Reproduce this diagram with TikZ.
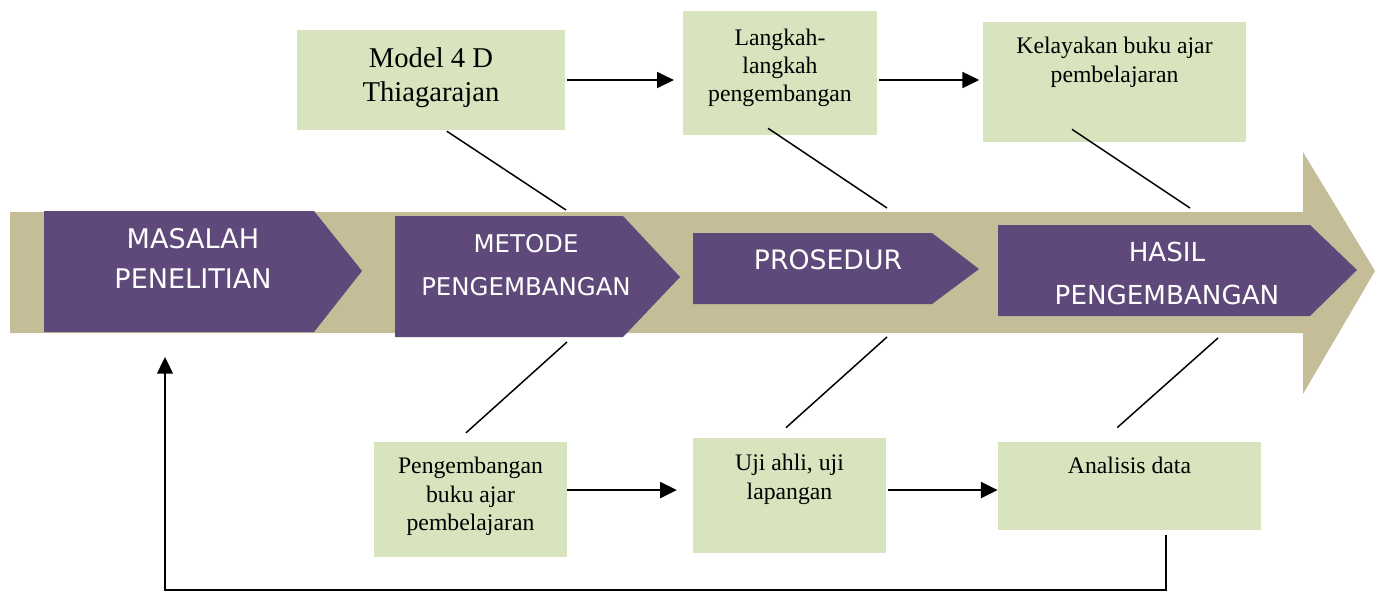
\documentclass[tikz,border=0pt]{standalone}
\usepackage{fontspec}
\setmainfont{Liberation Serif}
\newfontfamily\stagefont{DejaVu Sans}
\usetikzlibrary{arrows.meta,positioning}

\definecolor{arrowtan}{HTML}{C4BD97}
\definecolor{stagepurple}{HTML}{5F497A}
\definecolor{boxgreen}{HTML}{D7E4BD}

\tikzset{
  greenbox/.style={fill=boxgreen, inner sep=0pt},
  boxtext/.style={align=center, inner sep=0pt, font=\fontsize{13.5pt}{16pt}\selectfont},
  stagetext/.style={align=center, inner sep=0pt, text=white},
  flow/.style={line width=1.4pt, -{Triangle[length=9.5pt,width=9pt]}},
  spoke/.style={line width=0.85pt},
}

\begin{document}
\begin{tikzpicture}[x=0.02cm,y=-0.02cm]
    % Page size
    \useasboundingbox (0,0) rectangle (1375,592);

    % Shaft and head of the big arrow
    \pgfmathsetmacro{\Stop}{212}
    \pgfmathsetmacro{\Sbot}{333}
    \fill[arrowtan] (10,\Stop) -- (1303,\Stop) -- (1303,152) -- (1375,271)
        -- (1303,394) -- (1303,\Sbot) -- (10,\Sbot) -- cycle;

    % The four stages on the arrow
    \fill[stagepurple] (44,211) -- (314,211) -- (362,271) -- (314,332) -- (44,332) -- cycle;
    \fill[stagepurple] (395,216) -- (623,216) -- (680,277) -- (623,337) -- (395,337) -- cycle;
    \fill[stagepurple] (693,233) -- (932,233) -- (979,269) -- (932,304) -- (693,304) -- cycle;
    \fill[stagepurple] (998,225) -- (1310,225) -- (1357,270) -- (1310,316) -- (998,316) -- cycle;

    \node[stagetext, font=\stagefont\fontsize{15.4pt}{22.8pt}\selectfont] (masalah) at (193,258.5) {MASALAH\\PENELITIAN};
    \node[stagetext, font=\stagefont\fontsize{13.9pt}{24.5pt}\selectfont] (metode) at (526,265.5) {METODE\\PENGEMBANGAN};
    \node[stagetext, font=\stagefont\fontsize{15.2pt}{22pt}\selectfont] (prosedur) at (828,260) {PROSEDUR};
    \node[stagetext, font=\stagefont\fontsize{14.9pt}{24.5pt}\selectfont] (hasil) at (1167,273) {HASIL\\PENGEMBANGAN};

    % Boxes above the arrow
    \node[greenbox, minimum width=5.36cm, minimum height=2.0cm] (model) at (431,80) {};
    \node[greenbox, minimum width=3.88cm, minimum height=2.48cm] (langkah) at (780,73) {};
    \node[greenbox, minimum width=5.26cm, minimum height=2.4cm] (kelayakan) at (1114.5,82) {};

    % Boxes below the arrow
    \node[greenbox, minimum width=3.86cm, minimum height=2.3cm] (bukuajar) at (470.5,499.5) {};
    \node[greenbox, minimum width=3.86cm, minimum height=2.3cm] (ujiahli) at (789.5,495.5) {};
    \node[greenbox, minimum width=5.26cm, minimum height=1.76cm] (analisis) at (1129.5,486) {};

    % Texts in the boxes
    \node[boxtext, font=\fontsize{16.3pt}{19.3pt}\selectfont, below=10pt of model.north] (modeltxt) {Model 4 D\\Thiagarajan};
    \node[boxtext, below=10pt of langkah.north] (langkahtxt) {Langkah-\\langkah\\pengembangan};
    \node[boxtext, below=8.8pt of kelayakan.north] (kelayakantxt) {Kelayakan buku ajar\\pembelajaran};
    \node[boxtext, below=8.8pt of bukuajar.north] (bukuajartxt) {Pengembangan\\buku ajar\\pembelajaran};
    \node[boxtext, below=9.4pt of ujiahli.north] (ujiahlitxt) {Uji ahli, uji\\lapangan};
    \node[boxtext, below=8.8pt of analisis.north] (analisistxt) {Analisis data};

    % Arrows between the boxes
    \draw[flow, shorten <=1pt, shorten >=5pt] (model.east) -- (model.east -| langkah.west);
    \draw[flow, shorten <=1pt, shorten >=2pt] (langkah.east |- model.east) -- (kelayakan.west |- model.east);
    \draw[flow, shorten >=9pt] ([yshift=-2.3pt]bukuajar.east |- analisis.west) -- ([yshift=-2.3pt]ujiahli.west |- analisis.west);
    \draw[flow, shorten <=1pt] ([yshift=-2.3pt]ujiahli.east |- analisis.west) -- ([yshift=-2.3pt]analisis.west);

    % Spokes from the boxes to the arrow
    \coordinate (up1) at (566,210);
    \coordinate (up2) at (887,208);
    \coordinate (up3) at (1190,208);
    \coordinate (dn1) at (567,342);
    \coordinate (dn2) at (887,337);
    \coordinate (dn3) at (1218,338);
    \draw[spoke] ([xshift=9pt,yshift=-0.5pt]model.south) -- (up1);
    \draw[spoke] ([xshift=-6.8pt,yshift=4pt]langkah.south) -- (up2);
    \draw[spoke] ([xshift=-24.2pt,yshift=7.4pt]kelayakan.south) -- (up3);
    \draw[spoke] (dn1) -- ([xshift=-2.6pt,yshift=5pt]bukuajar.north);
    \draw[spoke] (dn2) -- ([xshift=-2pt,yshift=5.7pt]ujiahli.north);
    \draw[spoke] (dn3) -- ([xshift=-7pt,yshift=8pt]analisis.north);

    % Feedback to the problem
    \coordinate (fbstart) at (1166,535);
    \coordinate (fbend) at (165,357);
    \draw[flow, line width=1.1pt] (fbstart) -- ++(0,55) -| (fbend);
\end{tikzpicture}
\end{document}
